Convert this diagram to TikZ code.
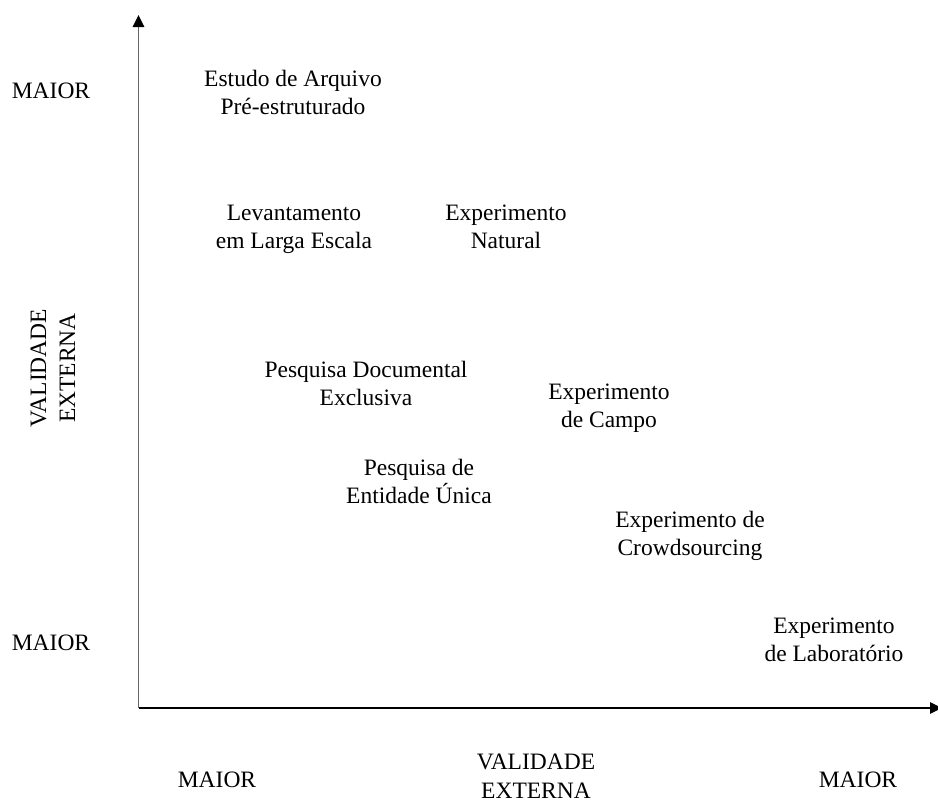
\documentclass[tikz,border=0pt]{standalone}
\usepackage{fontspec}
\setmainfont{Liberation Serif}
\usetikzlibrary{arrows.meta}
\definecolor{axisgray}{HTML}{666666}
\tikzset{
  lbl/.style={font=\fontsize{23.5}{28}\selectfont, align=center, inner sep=0pt, anchor=base},
  axlbl/.style={font=\fontsize{23.5}{29}\selectfont, align=center, inner sep=0pt, anchor=base},
  axisline/.style={line width=1.5pt},
  tip/.style={-{Triangle[black,length=12pt,width=11.5pt]}}
}
\begin{document}
\begin{tikzpicture}[x=1pt,y=-1pt]
\useasboundingbox (0,0) rectangle (938,801);
\clip (0,0) rectangle (938,801);
\coordinate (O) at (138.5,708);
\coordinate (Ytop) at (138.5,15);
\coordinate (Xend) at (942,708);
\draw[axisline, axisgray, tip] (O) -- (Ytop);
\draw[axisline, black, tip] (O) -- (Xend);

\node[lbl] (m1) at (51,98) {MAIOR};
\node[lbl] (m2) at (51,650) {MAIOR};
\node[lbl] (m3) at (217,787) {MAIOR};
\node[lbl] (m4) at (858,787) {MAIOR};
\node[axlbl] (vx) at (536,798) {VALIDADE\\EXTERNA};
\node[axlbl, rotate=90] (vy) at (75,368) {VALIDADE\\EXTERNA};

\node[lbl] (a) at (293,114) {Estudo de Arquivo\\Pré-estruturado};
\node[lbl] (b) at (294,248) {Levantamento\\em Larga Escala};
\node[lbl] (c) at (506,248) {Experimento\\Natural};
\node[lbl] (d) at (366,405) {Pesquisa Documental\\Exclusiva};
\node[lbl] (e) at (609,427) {Experimento\\de Campo};
\node[lbl] (f) at (419,503) {Pesquisa de\\Entidade Única};
\node[lbl] (g) at (690,555) {Experimento de\\Crowdsourcing};
\node[lbl] (h) at (834,661) {Experimento\\de Laboratório};
\end{tikzpicture}
\end{document}
